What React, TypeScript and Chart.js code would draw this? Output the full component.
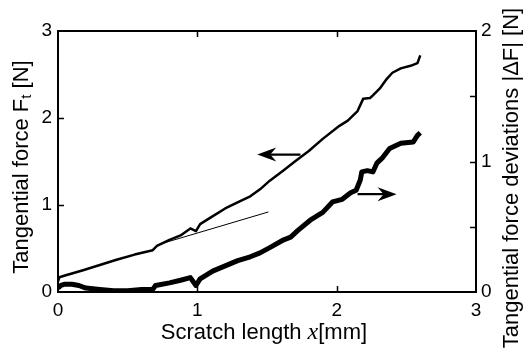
import { useEffect, useRef } from "react";
import { Chart, registerables } from "chart.js";

Chart.register(...registerables);

// Tangential force Ft [N] (left axis) vs scratch length x [mm]
const ftX = [0, 0.01, 0.05, 0.18, 0.3, 0.42, 0.55, 0.68, 0.71, 0.8, 0.88, 0.95, 0.99, 1.02, 1.1, 1.2, 1.3, 1.38, 1.45, 1.52, 1.62, 1.7, 1.8, 1.9, 2.02, 2.08, 2.15, 2.19, 2.24, 2.26, 2.31, 2.36, 2.4, 2.46, 2.53, 2.58, 2.6];
const ftY = [0.12, 0.17, 0.19, 0.25, 0.31, 0.37, 0.43, 0.48, 0.53, 0.6, 0.65, 0.73, 0.7, 0.78, 0.86, 0.96, 1.04, 1.1, 1.18, 1.28, 1.4, 1.5, 1.62, 1.76, 1.91, 1.97, 2.08, 2.22, 2.23, 2.26, 2.34, 2.45, 2.52, 2.57, 2.6, 2.63, 2.72];

// Tangential force deviations |dF| [N] (right axis)
const dfX = [0, 0.02, 0.05, 0.1, 0.15, 0.2, 0.3, 0.4, 0.5, 0.6, 0.68, 0.7, 0.8, 0.88, 0.95, 0.99, 1.02, 1.11, 1.2, 1.29, 1.38, 1.45, 1.52, 1.62, 1.67, 1.72, 1.81, 1.9, 1.97, 2.04, 2.1, 2.14, 2.17, 2.18, 2.22, 2.26, 2.29, 2.33, 2.38, 2.46, 2.55, 2.58, 2.6];
const dfY = [0.03, 0.05, 0.06, 0.06, 0.05, 0.03, 0.02, 0.01, 0.01, 0.02, 0.02, 0.05, 0.07, 0.09, 0.11, 0.05, 0.1, 0.16, 0.2, 0.24, 0.27, 0.3, 0.34, 0.4, 0.42, 0.47, 0.55, 0.61, 0.69, 0.71, 0.76, 0.78, 0.86, 0.92, 0.93, 0.92, 0.99, 1.03, 1.1, 1.14, 1.15, 1.2, 1.22];

// Thin linear reference line (left axis)
const fitX = [0.71, 1.51];
const fitY = [0.54, 0.92];

// Axis ticks
const xTicks = [1, 2];
const leftTicks = [1, 2];
const rightTicks = [0.5, 1, 1.5];

// Arrows: from x, to x, at y, on axis
const arrowFromX = [1.74, 2.15];
const arrowToX = [1.43, 2.43];
const arrowY = [1.58, 0.75];
const arrowAxis = ["y", "y2"];

const FONT = "'Liberation Sans', Arial, Helvetica, sans-serif";

function drawSegments(ctx: CanvasRenderingContext2D, segs: { t: string; f: string; dy: number }[], cx: number, cy: number, rot: number) {
  ctx.save();
  ctx.translate(cx, cy);
  ctx.rotate(rot);
  let total = 0;
  for (const s of segs) {
    ctx.font = s.f;
    total += ctx.measureText(s.t).width;
  }
  let x = -total / 2;
  ctx.textBaseline = "middle";
  ctx.textAlign = "left";
  ctx.fillStyle = "#000";
  for (const s of segs) {
    ctx.font = s.f;
    ctx.fillText(s.t, x, s.dy);
    x += ctx.measureText(s.t).width;
  }
  ctx.restore();
}

const decorPlugin = {
  id: "decor",
  afterDraw(chart: any) {
    const ctx: CanvasRenderingContext2D = chart.ctx;
    const a = chart.chartArea;
    const sx = chart.scales.x;
    const sy = chart.scales.y;
    const sy2 = chart.scales.y2;
    ctx.save();
    ctx.strokeStyle = "#000";
    ctx.lineWidth = 2;
    ctx.strokeRect(a.left, a.top, a.right - a.left, a.bottom - a.top);
    ctx.lineWidth = 1.5;
    const tl = 6;
    ctx.beginPath();
    for (const v of xTicks) {
      const px = Math.round(sx.getPixelForValue(v)) + 0.5;
      ctx.moveTo(px, a.bottom);
      ctx.lineTo(px, a.bottom - tl);
      ctx.moveTo(px, a.top);
      ctx.lineTo(px, a.top + tl);
    }
    for (const v of leftTicks) {
      const py = Math.round(sy.getPixelForValue(v)) + 0.5;
      ctx.moveTo(a.left, py);
      ctx.lineTo(a.left + tl, py);
    }
    for (const v of rightTicks) {
      const py = Math.round(sy2.getPixelForValue(v)) + 0.5;
      ctx.moveTo(a.right, py);
      ctx.lineTo(a.right - tl, py);
    }
    ctx.stroke();

    // arrows
    ctx.fillStyle = "#000";
    for (let i = 0; i < arrowFromX.length; i++) {
      const scale = chart.scales[arrowAxis[i]];
      const x1 = sx.getPixelForValue(arrowFromX[i]);
      const x2 = sx.getPixelForValue(arrowToX[i]);
      const y = scale.getPixelForValue(arrowY[i]);
      const dir = Math.sign(x2 - x1);
      ctx.lineWidth = 2.2;
      ctx.beginPath();
      ctx.moveTo(x1, y);
      ctx.lineTo(x2 - dir * 8, y);
      ctx.stroke();
      ctx.beginPath();
      ctx.moveTo(x2, y);
      ctx.lineTo(x2 - dir * 19, y - 7);
      ctx.lineTo(x2 - dir * 13, y);
      ctx.lineTo(x2 - dir * 19, y + 7);
      ctx.closePath();
      ctx.fill();
    }
    ctx.restore();

    const f = `22px ${FONT}`;
    drawSegments(ctx, [
      { t: "Tangential force F", f, dy: 0 },
      { t: "t", f: `15px ${FONT}`, dy: 5 },
      { t: " [N]", f, dy: 0 },
    ], 22, 167, -Math.PI / 2);
    drawSegments(ctx, [
      { t: "Scratch length ", f, dy: 0 },
      { t: "x", f: `italic 24px 'Liberation Serif', 'Times New Roman', serif`, dy: 0 },
      { t: "[mm]", f, dy: 0 },
    ], 264, 333, 0);
    drawSegments(ctx, [
      { t: "Tangential force deviations |\u0394F| [N]", f, dy: 0 },
    ], 512, 178, -Math.PI / 2);
  },
};

export default function App() {
  const ref = useRef<HTMLCanvasElement | null>(null);
  useEffect(() => {
    if (!ref.current) return;
    const tickFont = { family: FONT, size: 19 };
    const chart = new Chart(ref.current, {
      type: "scatter",
      data: {
        datasets: [
          {
            label: "Ft",
            data: ftX.map((x, i) => ({ x, y: ftY[i] })),
            showLine: true,
            borderColor: "#000",
            borderWidth: 2.5,
            pointRadius: 0,
            yAxisID: "y",
            tension: 0,
            borderJoinStyle: "round",
          },
          {
            label: "dF",
            data: dfX.map((x, i) => ({ x, y: dfY[i] })),
            showLine: true,
            borderColor: "#000",
            borderWidth: 5,
            pointRadius: 0,
            yAxisID: "y2",
            tension: 0,
            borderJoinStyle: "round",
          },
          {
            label: "fit",
            data: fitX.map((x, i) => ({ x, y: fitY[i] })),
            showLine: true,
            borderColor: "#000",
            borderWidth: 1,
            pointRadius: 0,
            yAxisID: "y",
          },
        ],
      },
      options: {
        animation: false,
        responsive: false,
        devicePixelRatio: 1,
        layout: { padding: { top: 31, left: 0, right: 0, bottom: 0 } },
        plugins: { legend: { display: false }, tooltip: { enabled: false } },
        scales: {
          x: {
            type: "linear",
            position: "bottom",
            min: 0,
            max: 3,
            ticks: { stepSize: 1, color: "#000", font: tickFont, padding: 7, maxRotation: 0 },
            grid: { drawOnChartArea: false, drawTicks: false },
            border: { display: false },
            afterFit: (s: any) => { s.height = 61; },
          },
          y: {
            type: "linear",
            position: "left",
            min: 0,
            max: 3,
            ticks: { stepSize: 1, color: "#000", font: tickFont, padding: 6 },
            grid: { drawOnChartArea: false, drawTicks: false },
            border: { display: false },
            afterFit: (s: any) => { s.width = 58; },
          },
          y2: {
            type: "linear",
            position: "right",
            min: 0,
            max: 2,
            ticks: { stepSize: 1, color: "#000", font: tickFont, padding: 5 },
            grid: { drawOnChartArea: false, drawTicks: false },
            border: { display: false },
            afterFit: (s: any) => { s.width = 47; },
          },
        },
      },
      plugins: [decorPlugin],
    } as any);
    return () => chart.destroy();
  }, []);
  return (
    <div style={{ position: "absolute", left: 0, top: 0, width: 523, height: 353, background: "#fff" }}>
      <canvas ref={ref} width={523} height={353} />
    </div>
  );
}
